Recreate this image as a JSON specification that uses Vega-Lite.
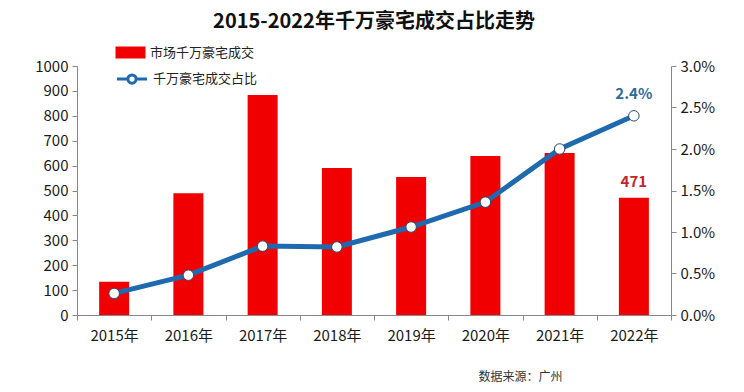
{
  "$schema": "https://vega.github.io/schema/vega-lite/v6.json",
  "autosize": "none",
  "width": 594,
  "height": 249,
  "padding": {"left": 77, "top": 66, "right": 73, "bottom": 77},
  "background": "white",
  "title": {
    "text": "2015-2022年千万豪宅成交占比走势",
    "font": "Noto Sans CJK SC",
    "fontSize": 20,
    "fontWeight": "bold",
    "color": "#111111",
    "anchor": "middle",
    "offset": 13
  },
  "config": {
    "font": "Noto Sans CJK SC",
    "view": {"stroke": null},
    "axis": {
      "labelFont": "Noto Sans CJK SC",
      "labelFontSize": 15,
      "labelColor": "#1A1A1A",
      "domainColor": "#888888",
      "tickColor": "#888888",
      "grid": false,
      "labelOverlap": false
    }
  },
  "data": {
    "values": [
      {"year": "2015年", "count": 134, "pct": 0.0026},
      {"year": "2016年", "count": 489, "pct": 0.0048},
      {"year": "2017年", "count": 884, "pct": 0.0083},
      {"year": "2018年", "count": 590, "pct": 0.0082},
      {"year": "2019年", "count": 554, "pct": 0.0106},
      {"year": "2020年", "count": 639, "pct": 0.0136},
      {"year": "2021年", "count": 651, "pct": 0.0200},
      {"year": "2022年", "count": 471, "pct": 0.0240}
    ]
  },
  "encoding": {
    "x": {
      "field": "year",
      "type": "nominal",
      "sort": null,
      "scale": {"paddingInner": 0, "paddingOuter": 0},
      "axis": {
        "title": "数据来源：广州",
        "titleFont": "Noto Sans CJK SC",
        "titleFontSize": 12,
        "titleFontWeight": "normal",
        "titleColor": "#333333",
        "titleAnchor": "end",
        "titleX": 485,
        "titleY": 56,
        "titleAlign": "right",
        "labelAngle": 0,
        "labelPadding": 8,
        "tickBand": "extent",
        "tickSize": 5
      }
    }
  },
  "layer": [
    {
      "layer": [
        {
          "mark": {"type": "bar", "size": 30},
          "encoding": {
            "y": {
              "field": "count",
              "type": "quantitative",
              "scale": {"domain": [0, 1000], "nice": false},
              "axis": {"title": null, "format": "d", "values": [0,100,200,300,400,500,600,700,800,900,1000], "tickCount": 11, "labelOverlap": false, "tickSize": 5, "labelPadding": 4}
            },
            "fill": {
              "datum": "市场千万豪宅成交",
              "type": "nominal",
              "scale": {"range": ["#F00000"]},
              "legend": {
                "title": null,
                "orient": "none",
                "legendX": 46,
                "legendY": -21,
                "symbolType": "M-2,-0.8H2V0.8H-2Z",
                "symbolSize": 225,
                "symbolStrokeWidth": 0,
                "labelOffset": 12,
                "labelFontSize": 13,
                "labelColor": "#222222",
                "labelFont": "Noto Sans CJK SC"
              }
            }
          }
        },
        {
          "transform": [{"filter": "datum.year == '2022年'"}],
          "mark": {"type": "text", "dy": -16, "fontSize": 15, "fontWeight": "bold", "color": "#C0282B"},
          "encoding": {
            "y": {
              "field": "count",
              "type": "quantitative",
              "axis": {"title": null, "format": "d", "values": [0,100,200,300,400,500,600,700,800,900,1000], "tickCount": 11, "labelOverlap": false, "tickSize": 5, "labelPadding": 4}
            },
            "text": {"field": "count", "type": "quantitative"}
          }
        }
      ]
    },
    {
      "layer": [
        {
          "mark": {"type": "line", "strokeWidth": 5},
          "encoding": {
            "y": {
              "field": "pct",
              "type": "quantitative",
              "scale": {"domain": [0, 0.03], "nice": false},
              "axis": {"title": null, "orient": "right", "format": ".1%", "values": [0,0.005,0.01,0.015,0.02,0.025,0.03], "tickSize": 5, "labelPadding": 4}
            },
            "stroke": {
              "datum": "千万豪宅成交占比",
              "type": "nominal",
              "scale": {"range": ["#1F6AAE"]},
              "legend": {
                "title": null,
                "orient": "none",
                "legendX": 46,
                "legendY": 4,
                "symbolType": "M-2,0H-0.55M0.55,0H2M-0.55,0a0.55,0.55 0 1,0 1.1,0a0.55,0.55 0 1,0 -1.1,0",
                "symbolSize": 225,
                "symbolStrokeWidth": 3,
                "symbolFillColor": "white",
                "labelOffset": 12,
                "labelFontSize": 13,
                "labelColor": "#222222",
                "labelFont": "Noto Sans CJK SC"
              }
            }
          }
        },
        {
          "mark": {"type": "point", "filled": true, "fill": "white", "stroke": "#2B4A6A", "strokeWidth": 1, "size": 110, "opacity": 1},
          "encoding": {
            "y": {"field": "pct", "type": "quantitative"}
          }
        },
        {
          "transform": [{"filter": "datum.year == '2022年'"}],
          "mark": {"type": "text", "dy": -22, "fontSize": 15, "fontWeight": "bold", "color": "#2E6C9E"},
          "encoding": {
            "y": {"field": "pct", "type": "quantitative"},
            "text": {"field": "pct", "type": "quantitative", "format": ".1%"}
          }
        }
      ]
    }
  ],
  "resolve": {"scale": {"y": "independent"}}
}
